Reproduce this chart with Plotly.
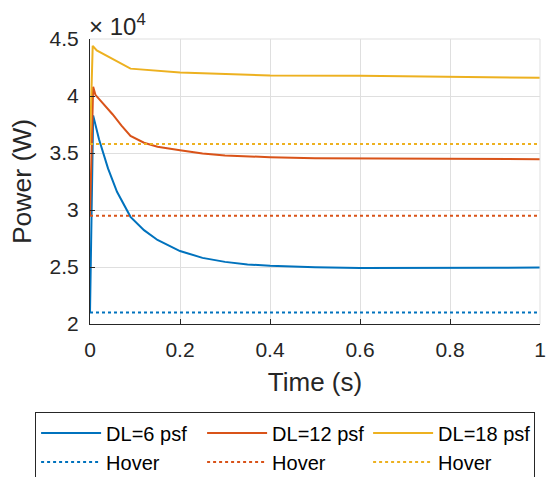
import plotly.graph_objects as go

# Time samples (s) and power (W)
t_dl6 = [0, 0.007, 0.02, 0.04, 0.06, 0.09, 0.12, 0.15, 0.2, 0.25, 0.3, 0.35, 0.4, 0.5, 0.6, 0.7, 0.8, 0.9, 1.0]
p_dl6 = [21000, 38300, 36200, 33650, 31600, 29400, 28230, 27370, 26400, 25800, 25450, 25230, 25100, 24970, 24920, 24910, 24920, 24940, 24950]

t_dl12 = [0, 0.007, 0.012, 0.03, 0.05, 0.07, 0.09, 0.12, 0.15, 0.2, 0.25, 0.3, 0.4, 0.5, 0.6, 0.8, 1.0]
p_dl12 = [29500, 40800, 40100, 39300, 38400, 37400, 36500, 35900, 35550, 35250, 34950, 34780, 34630, 34550, 34520, 34480, 34460]

t_dl18 = [0, 0.006, 0.015, 0.09, 0.2, 0.3, 0.4, 0.6, 0.8, 1.0]
p_dl18 = [35800, 44400, 44000, 42400, 42060, 41900, 41800, 41770, 41700, 41600]

t_hover = [0, 1]
hover_dl6 = [21000, 21000]
hover_dl12 = [29500, 29500]
hover_dl18 = [35800, 35800]

y_tickvals = [20000, 25000, 30000, 35000, 40000, 45000]
y_ticktext = ["2", "2.5", "3", "3.5", "4", "4.5"]
x_tickvals = [0, 0.2, 0.4, 0.6, 0.8, 1]
x_ticktext = ["0", "0.2", "0.4", "0.6", "0.8", "1"]

BLUE = "#0072BD"
RED = "#D95319"
YEL = "#EDB120"
DARK = "#262626"
FONT = "Liberation Sans, Arial, Helvetica, sans-serif"

fig = go.Figure()
fig.add_trace(go.Scatter(x=t_dl6, y=p_dl6, mode="lines", name="DL=6 psf",
                         line=dict(color=BLUE, width=2)))
fig.add_trace(go.Scatter(x=t_dl12, y=p_dl12, mode="lines", name="DL=12 psf",
                         line=dict(color=RED, width=2)))
fig.add_trace(go.Scatter(x=t_dl18, y=p_dl18, mode="lines", name="DL=18 psf",
                         line=dict(color=YEL, width=2)))
fig.add_trace(go.Scatter(x=t_hover, y=hover_dl6, mode="lines", name="Hover",
                         line=dict(color=BLUE, width=2, dash="dot")))
fig.add_trace(go.Scatter(x=t_hover, y=hover_dl12, mode="lines", name="Hover",
                         line=dict(color=RED, width=2, dash="dot")))
fig.add_trace(go.Scatter(x=t_hover, y=hover_dl18, mode="lines", name="Hover",
                         line=dict(color=YEL, width=2, dash="dot")))

fig.update_layout(
    width=550, height=477,
    margin=dict(l=90, r=10, t=38.5, b=152.5, autoexpand=False),
    paper_bgcolor="white", plot_bgcolor="white",
    font=dict(family=FONT, color=DARK, size=21),
    showlegend=True,
    legend=dict(
        orientation="h",
        x=-0.122, xanchor="left",
        y=-0.556, yanchor="bottom",
        bordercolor=DARK, borderwidth=1,
        bgcolor="white",
        font=dict(family=FONT, size=20, color="black"),
        itemwidth=60,
        entrywidth=91,
        traceorder="normal",
        tracegroupgap=0,
    ),
)

fig.update_xaxes(
    range=[0, 1], tickvals=x_tickvals, ticktext=x_ticktext,
    showgrid=True, gridcolor="#dfdfdf", gridwidth=1,
    zeroline=False, showline=True, linecolor=DARK, linewidth=1,
    ticks="inside", ticklen=5, tickcolor=DARK,
    tickfont=dict(size=21, color=DARK, family=FONT),
    ticklabelstandoff=7,
    title=dict(text="Time (s)", font=dict(size=26, color=DARK, family=FONT), standoff=12),
    automargin=False,
)
fig.update_yaxes(
    range=[20000, 45000], tickvals=y_tickvals, ticktext=y_ticktext,
    showgrid=True, gridcolor="#dfdfdf", gridwidth=1,
    zeroline=False, showline=True, linecolor=DARK, linewidth=1,
    ticks="inside", ticklen=5, tickcolor=DARK,
    tickfont=dict(size=21, color=DARK, family=FONT),
    ticklabelstandoff=6,
    title=dict(text="Power (W)", font=dict(size=26.5, color=DARK, family=FONT), standoff=10),
    automargin=False,
)

# grid border on top/right (light, like the reference)
fig.add_shape(type="line", xref="paper", yref="paper", x0=0, x1=1, y0=1, y1=1,
              line=dict(color="#dfdfdf", width=1))
fig.add_shape(type="line", xref="paper", yref="paper", x0=1, x1=1, y0=0, y1=1,
              line=dict(color="#dfdfdf", width=1))

fig.add_annotation(text="× 10<sup>4</sup>", xref="paper", yref="paper",
                   x=0, y=1, xanchor="left", yanchor="bottom",
                   showarrow=False, font=dict(size=24, color=DARK, family=FONT),
                   xshift=-3, yshift=-3)

fig.write_html("out.html")
